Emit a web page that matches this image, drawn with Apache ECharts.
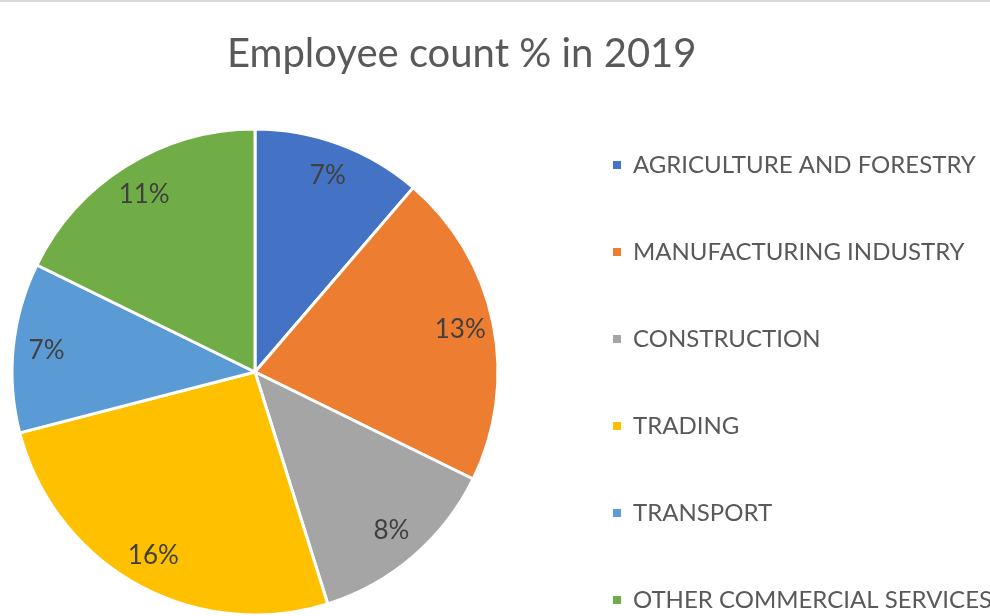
<!DOCTYPE html>
<html>
<head>
<meta charset="utf-8">
<script src="https://cdn.jsdelivr.net/npm/echarts@6/dist/echarts.min.js"></script>
<style>
  html, body { margin: 0; padding: 0; background: #ffffff; }
  #chart { width: 990px; height: 616px; }
</style>
</head>
<body>
<div id="chart"></div>
<script>
// Sectors and their share of employees (%)
const sectors = [
  'AGRICULTURE AND FORESTRY',
  'MANUFACTURING INDUSTRY',
  'CONSTRUCTION',
  'TRADING',
  'TRANSPORT',
  'OTHER COMMERCIAL SERVICES'
];
const shares = [7, 13, 8, 16, 7, 11];
const sectorColors = ['#4472C4', '#ED7D31', '#A5A5A5', '#FFC000', '#5B9BD5', '#70AD47'];

const FONT = 'Lato, "Open Sans", sans-serif';
const CENTER = [255, 372];
const R = 243;

const pieData = sectors.map((name, i) => ({
  name: name,
  value: shares[i],
  itemStyle: { color: sectorColors[i] }
}));

const chart = echarts.init(document.getElementById('chart'), null, { renderer: 'canvas' });

chart.setOption({
  backgroundColor: '#ffffff',
  animation: false,
  title: {
    text: 'Employee count % in 2019',
    left: 222,
    top: 29,
    textStyle: { fontFamily: FONT, fontSize: 40, fontWeight: 'normal', color: '#595959' }
  },
  legend: {
    type: 'plain',
    orient: 'vertical',
    left: 606,
    top: 148,
    height: 470,
    icon: 'rect',
    itemWidth: 10,
    itemHeight: 10,
    itemGap: 63,
    selectedMode: false,
    data: sectors.map((name, i) => ({ name: name, itemStyle: { color: sectorColors[i] } })),
    textStyle: { fontFamily: FONT, fontSize: 24, color: '#595959', lineHeight: 22, padding: [0, 0, 0, 6] }
  },
  graphic: [{
    type: 'rect',
    shape: { x: 0, y: 0, width: 990, height: 2 },
    style: { fill: '#d9d9d9' },
    silent: true
  }],
  series: [
    {
      // visible slices
      type: 'pie',
      center: CENTER,
      radius: [0, R],
      startAngle: 90,
      clockwise: true,
      label: { show: false },
      labelLine: { show: false },
      itemStyle: { borderColor: '#ffffff', borderWidth: 3 },
      data: pieData
    },
    {
      // transparent ring carrying the value labels near the rim
      type: 'pie',
      center: CENTER,
      radius: [R * 0.7, R],
      startAngle: 90,
      clockwise: true,
      silent: true,
      legendHoverLink: false,
      itemStyle: { color: 'transparent', borderWidth: 0 },
      label: {
        show: true,
        position: 'inside',
        formatter: p => p.value + '%',
        fontFamily: FONT,
        fontSize: 26,
        color: '#404040'
      },
      labelLine: { show: false },
      data: sectors.map((name, i) => ({ name: name, value: shares[i] }))
    }
  ]
});
</script>
</body>
</html>
